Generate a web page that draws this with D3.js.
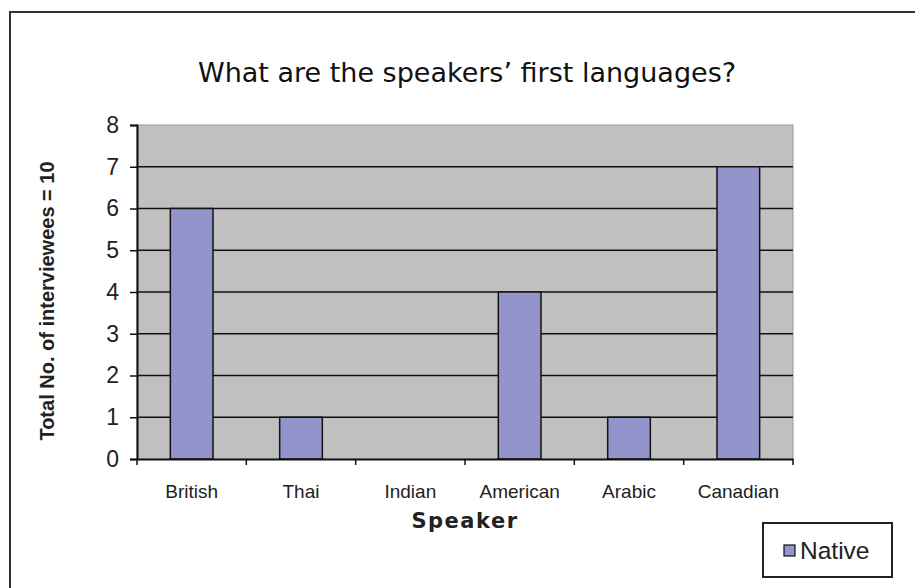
<!DOCTYPE html>
<html>
<head>
<meta charset="utf-8">
<script src="https://cdn.jsdelivr.net/npm/d3@7"></script>
<style>
  body { margin: 0; background: #fff; }
  svg { display: block; }
</style>
</head>
<body>
<script>
// chart data
const speakers = ["British", "Thai", "Indian", "American", "Arabic", "Canadian"];
const nativeCounts = [6, 1, 0, 4, 1, 7];
const yTicks = [0, 1, 2, 3, 4, 5, 6, 7, 8];
const seriesName = "Native";
// ----------

const w = 915;
const h = 588;
const p = { t: 125, r: 122, b: 129, l: 137 }; // plot area 137..793, 125..459
const barCol = "#9494cc";
const plotBg = "#c0c0c0";

const svg = d3.select("body").append("svg").attr("width", w).attr("height", h);

// outer frame (runs off right/bottom edges)
svg.append("path")
  .attr("d", `M10,${h + 5} L10,12 L${w + 5},12`)
  .attr("fill", "none")
  .attr("stroke", "#333")
  .attr("stroke-width", 2);

// title
svg.append("text")
  .text("What are the speakers\u2019 first languages?")
  .attr("x", 467)
  .attr("y", 82)
  .attr("text-anchor", "middle")
  .attr("font-family", "DejaVu Sans, Verdana, sans-serif")
  .attr("font-size", 27)
  .attr("fill", "#111");

// scales
const x = d3.scaleBand().domain(speakers).range([p.l, w - p.r]).paddingInner(0).paddingOuter(0);
const y = d3.scaleLinear().domain([0, 8]).range([h - p.b, p.t]);

// plot background
svg.append("rect")
  .attr("x", p.l)
  .attr("y", p.t)
  .attr("width", w - p.l - p.r)
  .attr("height", h - p.t - p.b)
  .attr("fill", plotBg)
  .attr("stroke", "#999")
  .attr("stroke-width", 1);

// gridlines
svg.append("g")
  .selectAll("line")
  .data(yTicks.filter((d) => d > 0 && d < 8))
  .enter()
  .append("line")
  .attr("x1", p.l)
  .attr("x2", w - p.r)
  .attr("y1", (d) => y(d))
  .attr("y2", (d) => y(d))
  .attr("stroke", "#111")
  .attr("stroke-width", 1.5);

// bars
const barW = x.bandwidth() * 0.39;
svg.append("g")
  .selectAll("rect")
  .data(speakers.map((s, i) => ({ s, v: nativeCounts[i] })).filter((d) => d.v > 0))
  .enter()
  .append("rect")
  .attr("x", (d) => x(d.s) + (x.bandwidth() - barW) / 2)
  .attr("y", (d) => y(d.v))
  .attr("width", barW)
  .attr("height", (d) => y(0) - y(d.v))
  .attr("fill", barCol)
  .attr("stroke", "#111")
  .attr("stroke-width", 1.5);

// y axis
const yAxis = svg.append("g")
  .attr("transform", `translate(${p.l}, 0)`)
  .call(d3.axisLeft(y).tickValues(yTicks).tickSize(7).tickPadding(11).tickFormat(d3.format("d")));
yAxis.select(".domain").attr("stroke", "#111").attr("stroke-width", 2);
yAxis.selectAll(".tick line").attr("stroke", "#111").attr("stroke-width", 1.5);
yAxis.selectAll("text")
  .attr("font-family", "Liberation Sans, Arial, sans-serif")
  .attr("font-size", 23)
  .attr("fill", "#222");

// x axis
const xAxis = svg.append("g")
  .attr("transform", `translate(0, ${h - p.b})`)
  .call(d3.axisBottom(x).tickSize(0).tickPadding(26));
xAxis.select(".domain").attr("stroke", "#111").attr("stroke-width", 2);
xAxis.selectAll("text")
  .attr("font-family", "Liberation Sans, Arial, sans-serif")
  .attr("font-size", 19)
  .attr("fill", "#222");
// band boundary ticks
xAxis.append("g")
  .selectAll("line")
  .data(speakers.concat(["__end"]))
  .enter()
  .append("line")
  .attr("x1", (d, i) => (i < speakers.length ? x(d) : x.range()[1]))
  .attr("x2", (d, i) => (i < speakers.length ? x(d) : x.range()[1]))
  .attr("y1", 0)
  .attr("y2", 6)
  .attr("stroke", "#111")
  .attr("stroke-width", 1.5);

// axis titles
svg.append("text")
  .text("Speaker")
  .attr("x", 465)
  .attr("y", 528)
  .attr("text-anchor", "middle")
  .attr("font-family", "DejaVu Sans, Verdana, sans-serif")
  .attr("font-weight", "bold")
  .attr("font-size", 21)
  .attr("letter-spacing", 1.5)
  .attr("fill", "#222");

svg.append("text")
  .text("Total No. of interviewees = 10")
  .attr("transform", `translate(54, 301) rotate(-90)`)
  .attr("text-anchor", "middle")
  .attr("font-family", "Liberation Sans, Arial, sans-serif")
  .attr("font-weight", "bold")
  .attr("font-size", 20)
  .attr("fill", "#222");

// legend
const legend = svg.append("g").attr("transform", "translate(763, 523)");
legend.append("rect")
  .attr("width", 129)
  .attr("height", 54)
  .attr("fill", "#fff")
  .attr("stroke", "#222")
  .attr("stroke-width", 2);
legend.append("rect")
  .attr("x", 21)
  .attr("y", 22)
  .attr("width", 11)
  .attr("height", 11)
  .attr("fill", barCol)
  .attr("stroke", "#111")
  .attr("stroke-width", 1.2);
legend.append("text")
  .text(seriesName)
  .attr("x", 37)
  .attr("y", 36)
  .attr("font-family", "Liberation Sans, Arial, sans-serif")
  .attr("font-size", 24.5)
  .attr("fill", "#222");
</script>
</body>
</html>
